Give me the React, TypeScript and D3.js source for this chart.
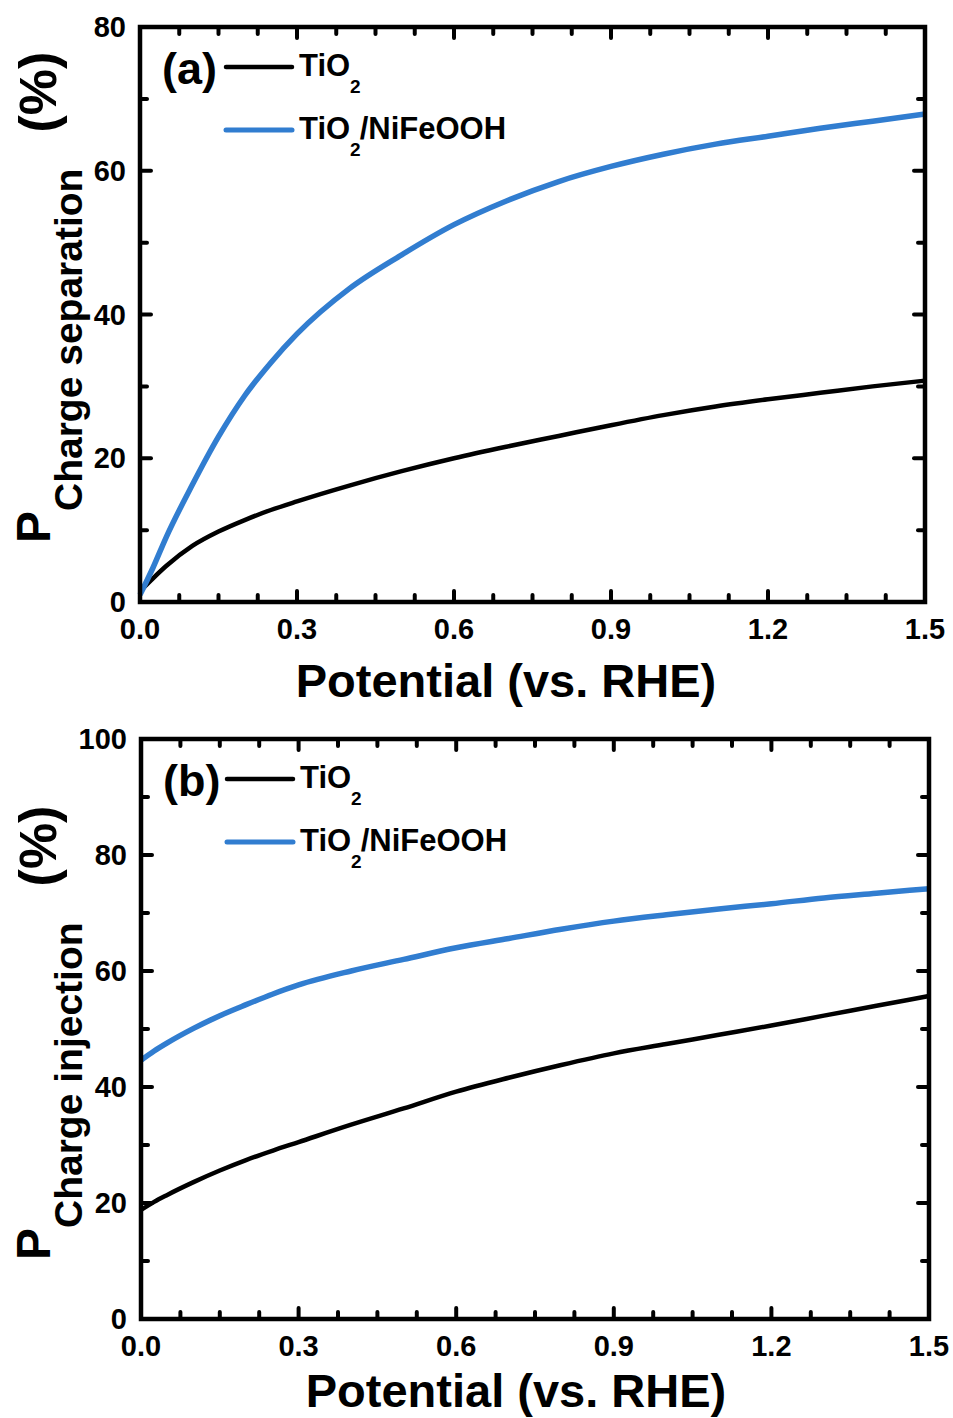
import React from "react";
import * as d3 from "d3";

// potential (V vs. RHE), shared by all four curves
const potential = [0, 0.025, 0.05, 0.1, 0.15, 0.2, 0.25, 0.3, 0.4, 0.5, 0.6, 0.7, 0.8, 0.9, 1.0, 1.1, 1.2, 1.3, 1.4, 1.5];

// (a) charge separation efficiency (%)
const sepTiO2 = [1.5, 3.3, 5.0, 7.8, 9.8, 11.4, 12.8, 14.0, 16.2, 18.2, 20.0, 21.6, 23.1, 24.6, 26.0, 27.2, 28.2, 29.1, 30.0, 30.8];
const sepNiFe = [1.0, 4.8, 9.0, 16.3, 23.0, 28.7, 33.3, 37.3, 43.6, 48.3, 52.5, 55.8, 58.5, 60.6, 62.3, 63.7, 64.8, 65.9, 66.9, 67.9];

// (b) charge injection efficiency (%)
const injTiO2 = [18.8, 20.2, 21.4, 23.6, 25.6, 27.4, 29.0, 30.5, 33.5, 36.3, 39.2, 41.6, 43.8, 45.8, 47.4, 49.0, 50.6, 52.3, 54.0, 55.7];
const injNiFe = [44.6, 46.2, 47.6, 50.1, 52.3, 54.2, 56.0, 57.6, 60.0, 62.0, 64.0, 65.6, 67.2, 68.6, 69.7, 70.7, 71.6, 72.6, 73.4, 74.2];

const xTicks = [0, 0.3, 0.6, 0.9, 1.2, 1.5];
const sepTicks = [0, 20, 40, 60, 80];
const injTicks = [0, 20, 40, 60, 80, 100];

const BLUE = "#317dd0";
const FONT = "'Liberation Sans', Arial, sans-serif";

type PanelProps = {
  left: number;
  top: number;
  right: number;
  bottom: number;
  yMax: number;
  yTicks: number[];
  black: number[];
  blue: number[];
  tag: string;
  sub: string;
  labelX: number;
  labelGap: number;
};

const Panel = ({ left, top, right, bottom, yMax, yTicks, black, blue, tag, sub, labelX, labelGap }: PanelProps) => {
  const x = d3.scaleLinear().domain([0, 1.5]).range([left, right]);
  const y = d3.scaleLinear().domain([0, yMax]).range([bottom, top]);

  const line = d3
    .line<number>()
    .x((d, i) => x(potential[i]))
    .y((d) => y(d))
    .curve(d3.curveMonotoneX);

  // minor ticks between the labelled ones
  const xMinor = d3.range(0, 1.5001, 0.075).filter((v) => !xTicks.some((t) => Math.abs(t - v) < 1e-6));
  const yMinor = d3.range(10, yMax, 20);

  const major = 11;
  const minor = 7;

  return (
    <g>
      {/* ticks on all four sides, pointing inwards */}
      <g stroke="#000" strokeWidth={4} strokeLinecap="round">
        {xTicks.map((t) => (
          <g key={"xt" + t}>
            <line x1={x(t)} x2={x(t)} y1={bottom} y2={bottom - major} />
            <line x1={x(t)} x2={x(t)} y1={top} y2={top + major} />
          </g>
        ))}
        {xMinor.map((t) => (
          <g key={"xm" + t}>
            <line x1={x(t)} x2={x(t)} y1={bottom} y2={bottom - minor} />
            <line x1={x(t)} x2={x(t)} y1={top} y2={top + minor} />
          </g>
        ))}
        {yTicks.map((t) => (
          <g key={"yt" + t}>
            <line x1={left} x2={left + major} y1={y(t)} y2={y(t)} />
            <line x1={right} x2={right - major} y1={y(t)} y2={y(t)} />
          </g>
        ))}
        {yMinor.map((t) => (
          <g key={"ym" + t}>
            <line x1={left} x2={left + minor} y1={y(t)} y2={y(t)} />
            <line x1={right} x2={right - minor} y1={y(t)} y2={y(t)} />
          </g>
        ))}
      </g>

      <path d={line(black) || ""} fill="none" stroke="#000" strokeWidth={4.5} />
      <path d={line(blue) || ""} fill="none" stroke={BLUE} strokeWidth={5.5} />

      <rect x={left} y={top} width={right - left} height={bottom - top} fill="none" stroke="#000" strokeWidth={4.5} />

      {/* tick labels */}
      {xTicks.map((t) => (
        <text key={"xl" + t} x={x(t)} y={bottom + 37} textAnchor="middle" fontSize={29}>
          {t.toFixed(1)}
        </text>
      ))}
      {yTicks.map((t) => (
        <text key={"yl" + t} x={left - 14} y={y(t) + 10} textAnchor="end" fontSize={29}>
          {t}
        </text>
      ))}

      {/* axis titles */}
      <text x={labelX} y={bottom + labelGap} textAnchor="middle" fontSize={47}>
        Potential (vs. RHE)
      </text>
      <text transform={`translate(50, ${bottom - 59}) rotate(-90)`} fontSize={48}>
        P
        <tspan fontSize={39} dy={32}>{sub}</tspan>
        <tspan fontSize={52} dy={-26} dx={36}>(%)</tspan>
      </text>

      {/* panel tag and legend */}
      <text x={left + 22} y={top + 57} fontSize={45}>{tag}</text>
      <line x1={left + 86} x2={left + 152} y1={top + 40} y2={top + 40} stroke="#000" strokeWidth={4.5} strokeLinecap="round" />
      <line x1={left + 86} x2={left + 152} y1={top + 103} y2={top + 103} stroke={BLUE} strokeWidth={5} strokeLinecap="round" />
      <text x={left + 159} y={top + 49} fontSize={31}>
        TiO<tspan fontSize={19} dy={17}>2</tspan>
      </text>
      <text x={left + 159} y={top + 112} fontSize={31}>
        TiO<tspan fontSize={19} dy={17}>2</tspan>
        <tspan dy={-17} dx={-1}>/NiFeOOH</tspan>
      </text>
    </g>
  );
};

const App = () => {
  return (
    <svg
      width={953}
      height={1418}
      style={{ position: "absolute", left: 0, top: 0, background: "#fff" }}
      fontFamily={FONT}
      fontWeight="bold"
    >
      <rect width={953} height={1418} fill="#fff" />
      <Panel
        left={140}
        top={27}
        right={925}
        bottom={602}
        yMax={80}
        yTicks={sepTicks}
        black={sepTiO2}
        blue={sepNiFe}
        tag="(a)"
        sub="Charge separation"
        labelX={506}
        labelGap={95}
      />
      <Panel
        left={141}
        top={739}
        right={929}
        bottom={1319}
        yMax={100}
        yTicks={injTicks}
        black={injTiO2}
        blue={injNiFe}
        tag="(b)"
        sub="Charge injection"
        labelX={516}
        labelGap={88}
      />
    </svg>
  );
};

export default App;
